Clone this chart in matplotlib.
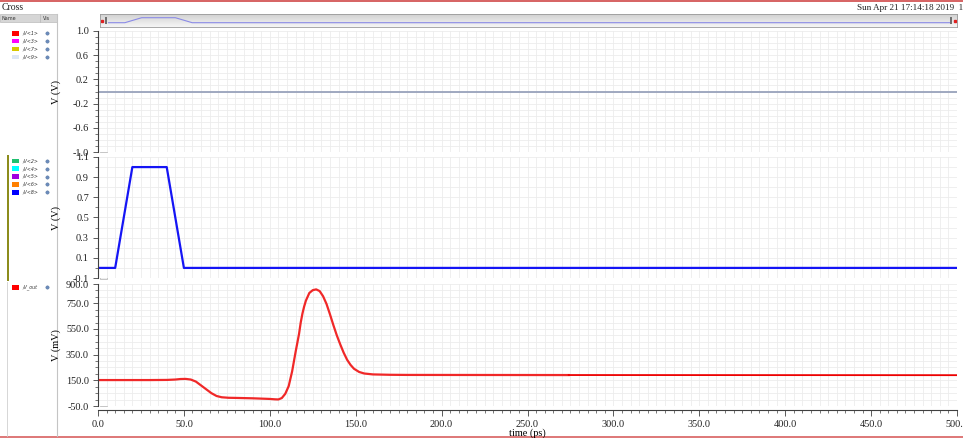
import numpy as np
import matplotlib.pyplot as plt
from matplotlib.ticker import MultipleLocator, FixedLocator
from matplotlib.patches import Rectangle

plt.rcParams['font.family'] = 'Liberation Serif'

W, H = 963, 438

# ---- dados ----
# painel 1: /V<1>, /V<3>, /V<7>, /V<9>  (todos em 0 V)
t_flat = [0, 500]
v_flat = [0.0, 0.0]

# painel 2: pulso de entrada
t_pulse = [0, 10, 20, 40, 50, 500]
v_pulse = [0.0, 0.0, 1.0, 1.0, 0.0, 0.0]

# painel 3: saída /V_out (mV)
t_out = [0, 10, 20, 30, 40, 45, 48, 51, 54, 57, 60, 63, 66, 69, 72, 76, 80, 90,
         100, 103, 105, 107, 109, 111, 113, 115, 117, 118, 119, 120, 121, 123, 125, 127,
         129, 131, 133, 135, 137, 139, 141, 143, 145, 147, 149, 152, 155, 160,
         170, 180, 274, 500]
v_out = [152, 152, 152, 152, 153, 156, 160, 161, 156, 140, 110, 80, 50, 28, 18,
         14, 13, 10, 5, 2, 1, 12, 45, 105, 220, 370, 510, 600, 670, 725, 770, 830, 852,
         858, 845, 805, 745, 665, 580, 500, 430, 365, 310, 270, 240, 215, 203,
         196, 193, 192, 191, 190]

legend_top = [('/V<1>', '#ff0000'), ('/V<3>', '#ff00ff'), ('/V<7>', '#d8c800'), ('/V<9>', '#dde6f5')]
legend_mid = [('/V<2>', '#20c070'), ('/V<4>', '#00ffff'), ('/V<5>', '#a000e0'),
              ('/V<6>', '#ff8000'), ('/V<8>', '#0000ff')]
legend_bot = [('/V_out', '#ff0000')]

x_ticks = [0, 50, 100, 150, 200, 250, 300, 350, 400, 450, 500]


def rect(x0, y0, x1, y1):
    return [x0 / W, 1 - y1 / H, (x1 - x0) / W, (y1 - y0) / H]


fig = plt.figure(figsize=(W / 100, H / 100), dpi=100)
fig.patch.set_facecolor('white')

# camada de fundo em pixels
bg = fig.add_axes([0, 0, 1, 1])
bg.set_xlim(0, W)
bg.set_ylim(H, 0)
bg.axis('off')
bg.plot([0, W], [1, 1], color='#d04848', lw=1.2)
bg.plot([0, W], [436.5, 436.5], color='#d86060', lw=1.2)
bg.text(2, 8, 'Cross', fontsize=7, va='center', ha='left', color='#222222')
bg.text(857, 8, 'Sun Apr 21 17:14:18 2019  1', fontsize=6.6, va='center', ha='left', color='#222222')
bg.plot([57, 57], [14, 436], color='#c4c4c4', lw=0.8)
bg.plot([7, 7], [282, 436], color='#d0d0d0', lw=0.6)

# cabeçalho da lista de sinais
bg.add_patch(Rectangle((0, 14), 57, 8, facecolor='#d6d6d6', edgecolor='#b0b0b0', lw=0.4))
bg.plot([40, 40], [14, 22], color='#b0b0b0', lw=0.4)
bg.text(1, 18, 'Name', fontsize=3.5, va='center', family='DejaVu Sans', color='#333333')
bg.text(43, 18, 'Vis', fontsize=3.5, va='center', family='DejaVu Sans', color='#333333')

# barra oliva (painel selecionado)
bg.add_patch(Rectangle((7, 155), 1.6, 126, facecolor='#8c8c1c', edgecolor='none'))


def draw_legend(items, y0):
    for i, (name, col) in enumerate(items):
        y = y0 + i * 7.9
        bg.add_patch(Rectangle((12, y - 2.2), 7, 4.4, facecolor=col, edgecolor='none'))
        bg.text(22, y, name, fontsize=3.4, va='center', family='DejaVu Sans',
                style='italic', color='#333333')
        bg.plot(47, y, marker='o', ms=2.4, color='#6c8cbc', mec='#4a6a9a', mew=0.3)


draw_legend(legend_top, 33.3)
draw_legend(legend_mid, 160.7)
draw_legend(legend_bot, 287.3)

# pequenos botões ">" no canto de cada painel
for yb in [147, 274, 401]:
    bg.add_patch(Rectangle((100, yb), 7, 5, facecolor='#eeeeee', edgecolor='#a0a0a0', lw=0.4, zorder=5))
    bg.text(103.5, yb + 2.6, '▸', fontsize=3.5, ha='center', va='center', color='#555555', zorder=6,
            family='DejaVu Sans')

# barra de rolagem / visão geral
sb = fig.add_axes(rect(100, 14, 957, 27))
grad = np.linspace(0.82, 0.96, 20).reshape(-1, 1)
sb.imshow(grad, cmap='gray', vmin=0, vmax=1, aspect='auto', extent=[0, 1, 0, 1])
sb.set_xlim(0, 1)
sb.set_ylim(0, 1)
sb.set_xticks([])
sb.set_yticks([])
for s in sb.spines.values():
    s.set_color('#9a9a9a')
    s.set_linewidth(0.6)
sb.plot(2.3 / 857, 0.5, 's', ms=1.6, color='#e02020')
sb.add_patch(Rectangle((5 / 857, 0.2), 2.2 / 857, 0.6, facecolor='#707070', edgecolor='none'))
sb.plot(855 / 857, 0.5, 's', ms=1.6, color='#e02020')
sb.add_patch(Rectangle((849.5 / 857, 0.2), 2.2 / 857, 0.6, facecolor='#707070', edgecolor='none'))

ov = fig.add_axes(rect(108, 14, 950, 27))
ov.patch.set_alpha(0)
ov.plot(t_pulse, v_pulse, color='#8a8ae6', lw=0.8)
ov.set_xlim(0, 500)
ov.set_ylim(-0.86, 1.74)
ov.axis('off')

grid_kw = dict(color='#ececec', lw=0.6)


def setup(ax, ylim, yticks, yminor, ylabel, show_x=False):
    ax.set_xlim(0, 500)
    ax.set_ylim(*ylim)
    ax.yaxis.set_major_locator(FixedLocator(yticks))
    ax.yaxis.set_minor_locator(MultipleLocator(yminor))
    ax.xaxis.set_major_locator(FixedLocator(x_ticks))
    ax.xaxis.set_minor_locator(MultipleLocator(5))
    ax.grid(which='both', **grid_kw)
    ax.set_axisbelow(True)
    for s in ['top', 'right']:
        ax.spines[s].set_visible(False)
    ax.spines['left'].set_color('#404040')
    ax.spines['left'].set_linewidth(0.8)
    ax.tick_params(axis='y', which='major', direction='out', length=3.5, width=0.6,
                   labelsize=7.4, pad=3, colors='#404040', labelcolor='#222222')
    ax.tick_params(axis='y', which='minor', direction='out', length=2, width=0.5, colors='#404040')
    if show_x:
        ax.spines['bottom'].set_color('#404040')
        ax.spines['bottom'].set_linewidth(0.8)
        ax.tick_params(axis='x', which='major', direction='out', length=4, width=0.6,
                       labelsize=7.4, pad=3, colors='#404040', labelcolor='#222222')
        ax.tick_params(axis='x', which='minor', direction='out', length=2, width=0.5, colors='#404040')
        ax.set_xticklabels([f'{v:.1f}' for v in x_ticks])
        ax.set_xlabel('time (ps)', fontsize=7.4, labelpad=0)
    else:
        ax.spines['bottom'].set_visible(False)
        ax.tick_params(axis='x', which='both', length=0, labelbottom=False)
    ax.set_ylabel(ylabel, fontsize=7.4)
    ax.yaxis.set_label_coords(-0.043, 0.5)


ax1 = fig.add_axes(rect(98, 31, 957, 152))
ax1.plot(t_flat, v_flat, color='#98a2bb', lw=1.3)
setup(ax1, (-1.0, 1.0), [1.0, 0.6, 0.2, -0.2, -0.6, -1.0], 0.1, 'V (V)')
ax1.set_yticklabels(['1.0', '0.6', '0.2', '-0.2', '-0.6', '-1.0'])

ax2 = fig.add_axes(rect(98, 157, 957, 278))
ax2.plot(t_pulse, v_pulse, color='#1515f5', lw=1.6)
setup(ax2, (-0.1, 1.1), [1.1, 0.9, 0.7, 0.5, 0.3, 0.1, -0.1], 0.1, 'V (V)')
ax2.set_yticklabels(['1.1', '0.9', '0.7', '0.5', '0.3', '0.1', '-0.1'])

ax3 = fig.add_axes(rect(98, 284, 957, 406))
t_arr = np.array(t_out)
v_arr = np.array(v_out)
sel = t_arr <= 274
ax3.plot(t_arr[sel], v_arr[sel], color='#f02828', lw=1.6)
ax3.plot(t_arr[t_arr >= 274], v_arr[t_arr >= 274], color='#ee0000', lw=1.3)
setup(ax3, (-50, 900), [900, 750, 550, 350, 150, -50], 50, 'V (mV)', show_x=True)
ax3.set_yticklabels(['900.0', '750.0', '550.0', '350.0', '150.0', '-50.0'])
ax3.spines['bottom'].set_position(('outward', 3))

plt.savefig('out.png', dpi=100)
